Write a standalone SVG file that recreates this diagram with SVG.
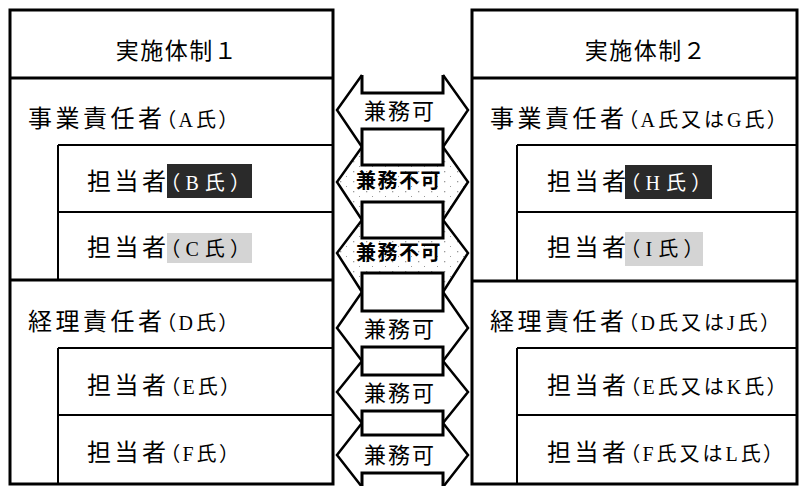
<svg xmlns="http://www.w3.org/2000/svg" width="800" height="486" viewBox="0 0 800 486">
<style>
text{font-family:"Noto Sans CJK JP","Noto Sans CJK SC",sans-serif;fill:#000}
.hd{font-size:23px;letter-spacing:1.5px;text-anchor:middle}
.lb{font-size:24px;letter-spacing:3.5px}
.pr{font-family:"Liberation Serif","Noto Sans CJK JP",serif;font-size:20px;letter-spacing:3px;font-feature-settings:"palt"}
.hl{letter-spacing:6px}
.w{fill:#fff}
.mid{font-size:22px;letter-spacing:2px;text-anchor:middle}
.ng{font-size:20px;font-weight:bold;letter-spacing:1.5px;text-anchor:middle}
.frame{fill:none;stroke:#000;stroke-width:3}
.thin{stroke:#000;stroke-width:2;fill:none}
.thick{stroke:#000;stroke-width:3;fill:none}
.zig{fill:none;stroke:#000;stroke-width:2.5;stroke-linejoin:miter}
.shaft{fill:#fff;stroke:#000;stroke-width:3}
.dark{fill:#2a2a2a}
.light{fill:#d4d4d4}
.spk{fill:url(#spk);stroke:none;opacity:.4}
</style>
<defs>
<pattern id="spk" width="13" height="10" patternUnits="userSpaceOnUse">
<rect x="2" y="1" width="1.3" height="1.3" fill="#000"/>
<rect x="8" y="6" width="1" height="1" fill="#000"/>
</pattern>
</defs>
<rect x="0" y="0" width="800" height="486" fill="#fff"/>

<g id="table1-frame">
<rect class="frame" x="10" y="10" width="323" height="474"/>
<path class="thick" d="M10,78 H333 M10,280 H333"/>
<path class="thin" d="M58,145 H333 M58,212 H333 M58,348 H333 M58,415 H333 M58,145 V280 M58,348 V484"/>
</g>
<g id="table2-frame">
<rect class="frame" x="472" y="10" width="325" height="474"/>
<path class="thick" d="M472,78 H797 M472,281 H797"/>
<path class="thin" d="M517,145 H797 M517,212 H797 M517,348 H797 M517,415 H797 M517,145 V281 M517,348 V484"/>
</g>

<g id="header1"><text class="hd" x="177" y="59">実施体制１</text></g>
<g id="jigyo1"><text class="lb" x="28" y="127">事業責任者<tspan class="pr">（A氏）</tspan></text></g>
<g id="tanto-b"><rect class="dark" x="167" y="164" width="85" height="34"/><text class="lb" x="87" y="190">担当者<tspan class="pr hl w">（B氏）</tspan></text></g>
<g id="tanto-c"><rect class="light" x="167" y="233" width="85" height="30"/><text class="lb" x="87" y="256">担当者<tspan class="pr hl">（C氏）</tspan></text></g>
<g id="keiri1"><text class="lb" x="28" y="330">経理責任者<tspan class="pr">（D氏）</tspan></text></g>
<g id="tanto-e"><text class="lb" x="87" y="394">担当者<tspan class="pr">（E氏）</tspan></text></g>
<g id="tanto-f"><text class="lb" x="87" y="461">担当者<tspan class="pr">（F氏）</tspan></text></g>

<g id="header2"><text class="hd" x="646" y="59">実施体制２</text></g>
<g id="jigyo2"><text class="lb" x="490" y="127">事業責任者<tspan class="pr">（A氏又はG氏）</tspan></text></g>
<g id="tanto-h"><rect class="dark" x="625" y="165" width="87" height="34"/><text class="lb" x="547" y="190">担当者<tspan class="pr hl w">（H氏）</tspan></text></g>
<g id="tanto-i"><rect class="light" x="625" y="232" width="78" height="34"/><text class="lb" x="547" y="256">担当者<tspan class="pr hl">（I氏）</tspan></text></g>
<g id="keiri2"><text class="lb" x="490" y="330">経理責任者<tspan class="pr">（D氏又はJ氏）</tspan></text></g>
<g id="tanto-ek"><text class="lb" x="547" y="394">担当者<tspan class="pr">（E氏又はK氏）</tspan></text></g>
<g id="tanto-fl"><text class="lb" x="547" y="461">担当者<tspan class="pr">（F氏又はL氏）</tspan></text></g>

<g id="connectors">
<polygon class="spk" points="362,147 443,147 468,182 443,220 362,220 337,182"/>
<polygon class="spk" points="362,220 443,220 468,253 443,292 362,292 337,253"/>
<path class="zig" d="M362,75 L337,110 L362,147 L337,182 L362,220 L337,253 L362,292 L337,328 L362,361 L337,392 L362,423 L337,455 L362,487"/>
<path class="zig" d="M443,75 L468,110 L443,147 L468,182 L443,220 L468,253 L443,292 L468,328 L443,361 L468,392 L443,423 L468,455 L443,487"/>
<path class="thick" d="M362,75 V93 H443 V75"/>
<rect class="shaft" x="362" y="129" width="81" height="36"/>
<rect class="shaft" x="362" y="202" width="81" height="36"/>
<rect class="shaft" x="362" y="273" width="81" height="38"/>
<rect class="shaft" x="362" y="347" width="81" height="28"/>
<rect class="shaft" x="362" y="411" width="81" height="24"/>
<rect class="shaft" x="362" y="473" width="81" height="20"/>
<text class="mid" x="400" y="119">兼務可</text>
<text class="ng" x="399" y="188">兼務不可</text>
<text class="ng" x="399" y="260">兼務不可</text>
<text class="mid" x="400" y="337">兼務可</text>
<text class="mid" x="400" y="401">兼務可</text>
<text class="mid" x="400" y="463">兼務可</text>
</g>
</svg>
